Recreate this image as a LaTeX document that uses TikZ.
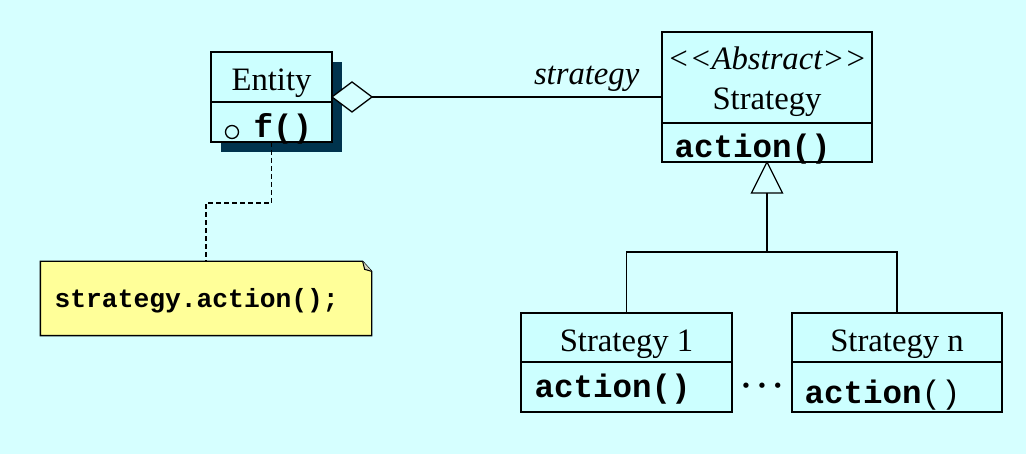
\documentclass[tikz,border=0pt]{standalone}
\usepackage{fontspec}
\setmainfont{Liberation Serif}
\setmonofont{Liberation Mono}
\usetikzlibrary{positioning}
\definecolor{bgcyan}{RGB}{214,255,255}
\definecolor{boxcyan}{RGB}{204,255,255}
\definecolor{noteyellow}{RGB}{255,255,153}
\definecolor{shadownavy}{RGB}{0,51,77}
\tikzset{
  umlpart/.style={draw, fill=boxcyan, inner sep=0pt, outer sep=0pt, line width=1.3pt},
  txt/.style={font=\fontsize{32.7}{38}\selectfont, inner sep=0pt},
  code/.style={font=\fontsize{32.5}{38}\selectfont\ttfamily\bfseries, inner sep=0pt},
  notecode/.style={font=\fontsize{26.3}{32}\selectfont\ttfamily\bfseries, inner sep=0pt},
}
\begin{document}
\begin{tikzpicture}[x=1pt,y=-1pt,line width=1.3pt]
\fill[bgcyan] (0,0) rectangle (1026,454);
% Entity
\fill[shadownavy] (221,62) rectangle (342,152);
\node[umlpart, minimum width=121pt, minimum height=50pt] (entity) at (271.5,77) {};
\node[umlpart, minimum width=121pt, minimum height=40pt, below=0pt of entity] (entityops) {};
\node[txt, anchor=base] (entityname) at (271.5,91) {Entity};
\draw (232,132) circle (6.5pt);
\node[code, anchor=base west] (entityf) at (253,138) {f()};
% Strategy
\node[umlpart, minimum width=210pt, minimum height=91pt] (strategy) at (767,77.5) {};
\node[umlpart, minimum width=210pt, minimum height=39pt, below=0pt of strategy] (strategyops) {};
\node[txt, anchor=base] (stereo) at (767,70) {\itshape <{}<Abstract>{}>};
\node[txt, anchor=base] (strategyname) at (767,110) {Strategy};
\node[code, anchor=base west] (strategyact) at (674,158) {action()};
% concrete strategies
\node[umlpart, minimum width=211pt, minimum height=49pt] (strategyone) at (626.5,337.5) {};
\node[umlpart, minimum width=211pt, minimum height=50pt, below=0pt of strategyone] (strategyoneops) {};
\node[txt, anchor=base] (strategyonename) at (626.5,352) {Strategy 1};
\node[code, anchor=base west] (strategyoneact) at (534,398) {action()};
\node[umlpart, minimum width=210pt, minimum height=49pt] (strategyn) at (897,337.5) {};
\node[umlpart, minimum width=210pt, minimum height=50pt, below=0pt of strategyn] (strategynops) {};
\node[txt, anchor=base] (strategynname) at (897,352) {Strategy n};
\node[code, anchor=base west] (strategynact) at (804,403) {action\textmd{()}};
\node[txt, anchor=base] (dots) at (762,396) {\textbf{·\kern5pt·\kern5pt·}};
% aggregation
\coordinate (aggr) at (332,97);
\draw[fill=bgcyan] (aggr) -- ++(20,-15) -- ++(20,15) coordinate (aggrtip) -- ++(-20,15) -- cycle;
\draw (aggrtip) -- (aggrtip -| strategy.west)
  node[txt, pos=1, anchor=base east, xshift=-22pt, yshift=12pt] (rolename) {\itshape strategy};
% generalization
\draw[fill=bgcyan] (strategyops.south) -- ++(-15.5,31) -- ++(31,0) -- cycle;
\draw (strategyops.south) ++(0,31) -- ++(0,59) coordinate (branch);
\draw (strategyone.north) |- (branch) -| (strategyn.north);
% note
\node[minimum width=330pt, minimum height=73pt, inner sep=0pt] (note) at (206,298.5) {};
\draw[fill=noteyellow] (note.south west) -- (note.north west) -- ([xshift=-9pt]note.north east)
  -- ([yshift=-10pt]note.north east) -- (note.south east) -- cycle;
\draw[fill=noteyellow!60!black!40, line width=1pt] ([xshift=-9pt]note.north east) -- ++(2,8) -- ([yshift=-10pt]note.north east);
\node[notecode, anchor=base west] (notetext) at (54,308) {strategy.action();};
\draw[line width=1.2pt, dash pattern=on 5pt off 3pt] (entityops.south) -- ++(0,61) -| (note.north);
\end{tikzpicture}
\end{document}
